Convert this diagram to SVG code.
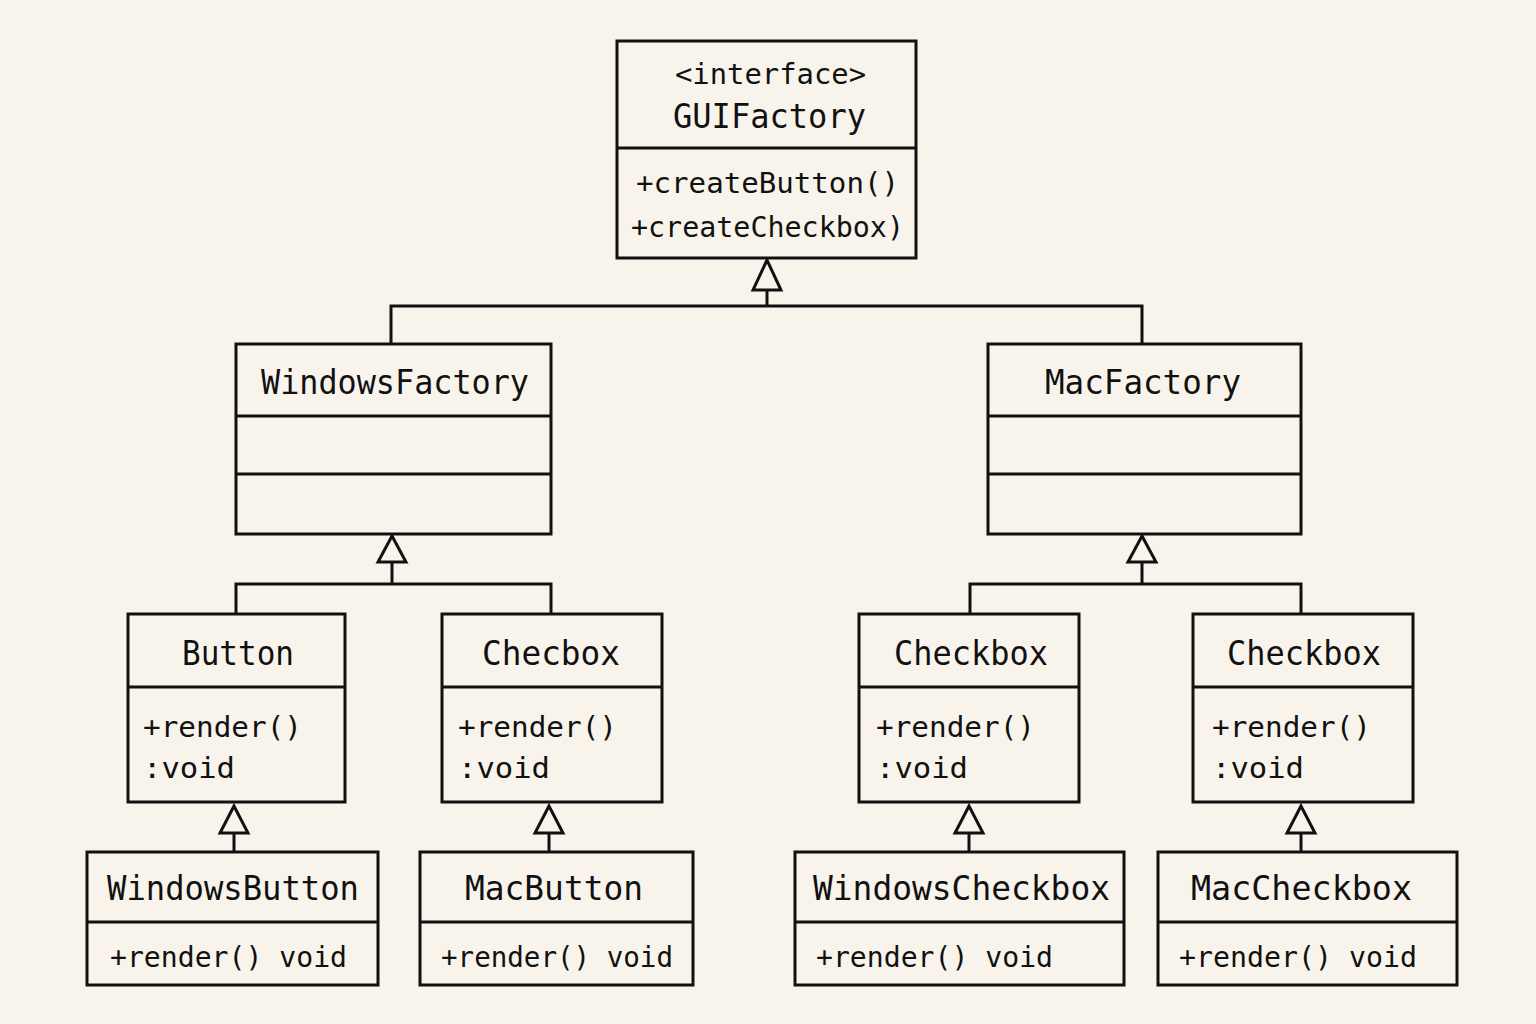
<svg xmlns="http://www.w3.org/2000/svg" width="1536" height="1024" viewBox="0 0 1536 1024">
<style>
.box{fill:#f8f4ec;stroke:#111;stroke-width:3}
.div{stroke:#111;stroke-width:3}
.t{font-family:"DejaVu Sans Mono","Liberation Mono",monospace;fill:#111}
.n{font-size:34px}
.m{font-size:29px}
.c{fill:none;stroke:#111;stroke-width:3}
.tri{fill:#f8f4ec;stroke:#111;stroke-width:3;stroke-linejoin:miter}
</style>
<rect width="1536" height="1024" fill="#f8f4ec"/>
<g id="connectors">
<path class="c" d="M767 290V306M391 344V306H1142V344"/>
<polygon class="tri" points="767,260 753,290 781,290"/>
<path class="c" d="M392 562V584M236 614V584H551V614"/>
<polygon class="tri" points="392,536 378,562 406,562"/>
<path class="c" d="M1142 562V584M970 614V584H1301V614"/>
<polygon class="tri" points="1142,536 1128,562 1156,562"/>
<path class="c" d="M234 833V852"/>
<polygon class="tri" points="234,806 220,833 248,833"/>
<path class="c" d="M549 833V852"/>
<polygon class="tri" points="549,806 535,833 563,833"/>
<path class="c" d="M969 833V852"/>
<polygon class="tri" points="969,806 955,833 983,833"/>
<path class="c" d="M1301 833V852"/>
<polygon class="tri" points="1301,806 1287,833 1315,833"/>
</g>
<g id="GUIFactory">
<rect class="box" x="617" y="41" width="299" height="217"/>
<line class="div" x1="617" y1="148" x2="916" y2="148"/>
<text class="t" x="675" y="84" font-size="29" textLength="191" lengthAdjust="spacingAndGlyphs">&lt;interface&gt;</text>
<text class="t n" x="673" y="128" textLength="193" lengthAdjust="spacingAndGlyphs">GUIFactory</text>
<text class="t m" x="636" y="193" textLength="263" lengthAdjust="spacingAndGlyphs">+createButton()</text>
<text class="t m" x="631" y="237" textLength="273" lengthAdjust="spacingAndGlyphs">+createCheckbox)</text>
</g>
<g id="WindowsFactory">
<rect class="box" x="236" y="344" width="315" height="190"/>
<line class="div" x1="236" y1="416" x2="551" y2="416"/>
<line class="div" x1="236" y1="474" x2="551" y2="474"/>
<text class="t n" x="261" y="394" textLength="268" lengthAdjust="spacingAndGlyphs">WindowsFactory</text>
</g>
<g id="MacFactory">
<rect class="box" x="988" y="344" width="313" height="190"/>
<line class="div" x1="988" y1="416" x2="1301" y2="416"/>
<line class="div" x1="988" y1="474" x2="1301" y2="474"/>
<text class="t n" x="1045" y="394" textLength="196" lengthAdjust="spacingAndGlyphs">MacFactory</text>
</g>
<g id="Button">
<rect class="box" x="128" y="614" width="217" height="188"/>
<line class="div" x1="128" y1="687" x2="345" y2="687"/>
<text class="t n" x="182" y="665" textLength="112" lengthAdjust="spacingAndGlyphs">Button</text>
<text class="t m" x="143" y="737" textLength="159" lengthAdjust="spacingAndGlyphs">+render()</text>
<text class="t m" x="143" y="778" textLength="92" lengthAdjust="spacingAndGlyphs">:void</text>
</g>
<g id="Checbox">
<rect class="box" x="442" y="614" width="220" height="188"/>
<line class="div" x1="442" y1="687" x2="662" y2="687"/>
<text class="t n" x="482" y="665" textLength="138" lengthAdjust="spacingAndGlyphs">Checbox</text>
<text class="t m" x="458" y="737" textLength="159" lengthAdjust="spacingAndGlyphs">+render()</text>
<text class="t m" x="458" y="778" textLength="92" lengthAdjust="spacingAndGlyphs">:void</text>
</g>
<g id="Checkbox1">
<rect class="box" x="859" y="614" width="220" height="188"/>
<line class="div" x1="859" y1="687" x2="1079" y2="687"/>
<text class="t n" x="894" y="665" textLength="154" lengthAdjust="spacingAndGlyphs">Checkbox</text>
<text class="t m" x="876" y="737" textLength="159" lengthAdjust="spacingAndGlyphs">+render()</text>
<text class="t m" x="876" y="778" textLength="92" lengthAdjust="spacingAndGlyphs">:void</text>
</g>
<g id="Checkbox2">
<rect class="box" x="1193" y="614" width="220" height="188"/>
<line class="div" x1="1193" y1="687" x2="1413" y2="687"/>
<text class="t n" x="1227" y="665" textLength="154" lengthAdjust="spacingAndGlyphs">Checkbox</text>
<text class="t m" x="1212" y="737" textLength="159" lengthAdjust="spacingAndGlyphs">+render()</text>
<text class="t m" x="1212" y="778" textLength="92" lengthAdjust="spacingAndGlyphs">:void</text>
</g>
<g id="WindowsButton">
<rect class="box" x="87" y="852" width="291" height="133"/>
<line class="div" x1="87" y1="922" x2="378" y2="922"/>
<text class="t n" x="107" y="900" textLength="252" lengthAdjust="spacingAndGlyphs">WindowsButton</text>
<text class="t m" x="110" y="967" textLength="237" lengthAdjust="spacingAndGlyphs">+render() void</text>
</g>
<g id="MacButton">
<rect class="box" x="420" y="852" width="273" height="133"/>
<line class="div" x1="420" y1="922" x2="693" y2="922"/>
<text class="t n" x="465" y="900" textLength="178" lengthAdjust="spacingAndGlyphs">MacButton</text>
<text class="t m" x="441" y="967" textLength="232" lengthAdjust="spacingAndGlyphs">+render() void</text>
</g>
<g id="WindowsCheckbox">
<rect class="box" x="795" y="852" width="329" height="133"/>
<line class="div" x1="795" y1="922" x2="1124" y2="922"/>
<text class="t n" x="813" y="900" textLength="297" lengthAdjust="spacingAndGlyphs">WindowsCheckbox</text>
<text class="t m" x="816" y="967" textLength="237" lengthAdjust="spacingAndGlyphs">+render() void</text>
</g>
<g id="MacCheckbox">
<rect class="box" x="1158" y="852" width="299" height="133"/>
<line class="div" x1="1158" y1="922" x2="1457" y2="922"/>
<text class="t n" x="1191" y="900" textLength="221" lengthAdjust="spacingAndGlyphs">MacCheckbox</text>
<text class="t m" x="1179" y="967" textLength="238" lengthAdjust="spacingAndGlyphs">+render() void</text>
</g>
</svg>
